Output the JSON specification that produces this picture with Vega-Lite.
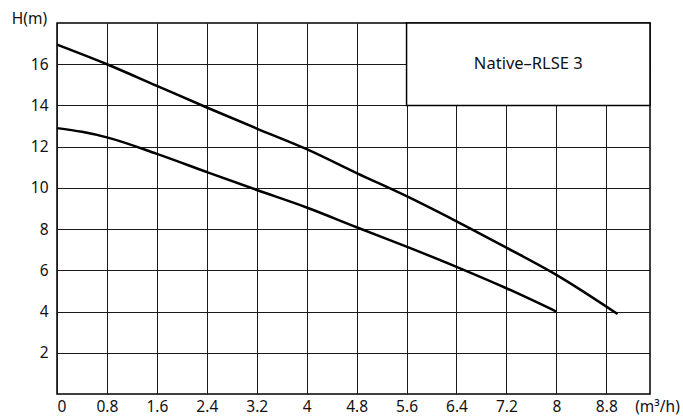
{
  "$schema": "https://vega.github.io/schema/vega-lite/v6.json",
  "autosize": "none",
  "padding": {"left": 57, "top": 23, "right": 33, "bottom": 24},
  "width": 593,
  "height": 371,
  "background": "white",
  "config": {
    "font": "Noto Sans",
    "view": {"stroke": "#000", "strokeWidth": 1.5},
    "axis": {
      "grid": true, "gridColor": "#1a1a1a", "gridWidth": 1, "gridOpacity": 1,
      "domain": false, "ticks": false,
      "labelFont": "Noto Sans", "labelFontSize": 15.5, "labelColor": "#111",
      "titleFont": "Noto Sans", "titleFontSize": 15.5, "titleFontWeight": "normal", "titleColor": "#111"
    }
  },
  "datasets": {
    "curves": [
      {"q": 0, "h": 16.95, "c": "upper"},
      {"q": 0.8, "h": 16.0, "c": "upper"},
      {"q": 1.6, "h": 14.95, "c": "upper"},
      {"q": 2.4, "h": 13.9, "c": "upper"},
      {"q": 3.2, "h": 12.88, "c": "upper"},
      {"q": 4.0, "h": 11.88, "c": "upper"},
      {"q": 4.8, "h": 10.72, "c": "upper"},
      {"q": 5.6, "h": 9.6, "c": "upper"},
      {"q": 6.4, "h": 8.38, "c": "upper"},
      {"q": 7.2, "h": 7.1, "c": "upper"},
      {"q": 8.0, "h": 5.78, "c": "upper"},
      {"q": 8.98, "h": 3.88, "c": "upper"},
      {"q": 0, "h": 12.9, "c": "lower"},
      {"q": 0.4, "h": 12.72, "c": "lower"},
      {"q": 0.8, "h": 12.45, "c": "lower"},
      {"q": 1.6, "h": 11.65, "c": "lower"},
      {"q": 2.4, "h": 10.77, "c": "lower"},
      {"q": 3.2, "h": 9.9, "c": "lower"},
      {"q": 4.0, "h": 9.05, "c": "lower"},
      {"q": 4.8, "h": 8.09, "c": "lower"},
      {"q": 5.6, "h": 7.15, "c": "lower"},
      {"q": 6.4, "h": 6.17, "c": "lower"},
      {"q": 7.2, "h": 5.13, "c": "lower"},
      {"q": 8.0, "h": 4.0, "c": "lower"}
    ],
    "label": [{"name": "Native–RLSE 3"}]
  },
  "layer": [
    {
      "data": {"name": "curves"},
      "mark": {"type": "line", "color": "#000", "strokeWidth": 2.5, "interpolate": "monotone"},
      "encoding": {
        "x": {
          "field": "q", "type": "quantitative",
          "scale": {"domain": [0, 9.5], "nice": false, "zero": false},
          "axis": {
            "values": [0, 0.8, 1.6, 2.4, 3.2, 4, 4.8, 5.6, 6.4, 7.2, 8, 8.8],
            "labelExpr": "format(datum.value, '.1~f')",
            "labelPadding": 5,
            "title": "(m³/h)",
            "titleAngle": 0, "titleX": 600, "titleY": 12, "titleAlign": "center", "titleBaseline": "middle"
          }
        },
        "y": {
          "field": "h", "type": "quantitative",
          "scale": {"domain": [0, 18], "nice": false},
          "axis": {
            "values": [2, 4, 6, 8, 10, 12, 14, 16],
            "labelPadding": 9,
            "title": "H(m)",
            "titleAngle": 0, "titleX": -28, "titleY": -5, "titleAlign": "center", "titleBaseline": "middle"
          }
        },
        "detail": {"field": "c"}
      }
    },
    {
      "data": {"name": "label"},
      "mark": {"type": "rect", "fill": "white", "stroke": "#000", "strokeWidth": 1.5},
      "encoding": {
        "x": {"datum": 5.6, "type": "quantitative"},
        "x2": {"datum": 9.5},
        "y": {"datum": 14, "type": "quantitative"},
        "y2": {"datum": 18}
      }
    },
    {
      "data": {"name": "label"},
      "mark": {"type": "text", "font": "Noto Sans", "fontSize": 16.5, "color": "#111", "align": "center", "baseline": "middle"},
      "encoding": {
        "x": {"datum": 7.55, "type": "quantitative"},
        "y": {"datum": 16, "type": "quantitative"},
        "text": {"field": "name"}
      }
    }
  ]
}
